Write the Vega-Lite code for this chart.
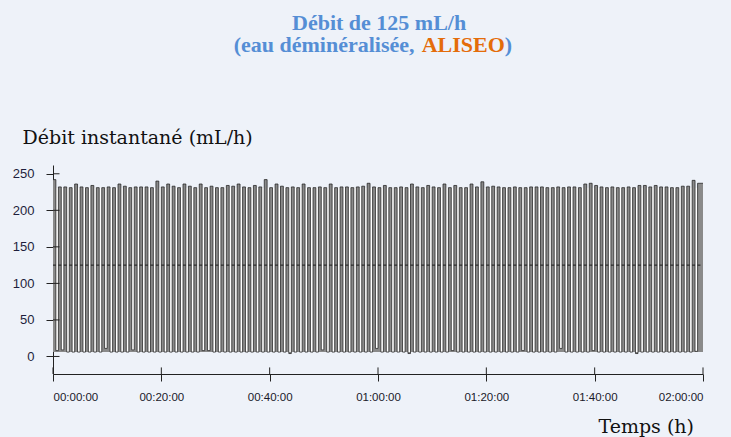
{
"$schema": "https://vega.github.io/schema/vega-lite/v6.json",
"width": 650,
"height": 209,
"autosize": {"type": "none"},
"padding": {"left": 53, "top": 165, "right": 28, "bottom": 63},
"background": "#eef2f9",
"config": {"view": {"stroke": null}, "font": "Liberation Sans"},
"datasets": {
"flow": [
{"t":0,"v":242},{"t":0.53,"v":8},{"t":1,"v":232},{"t":1.53,"v":9},{"t":2,"v":232},{"t":2.53,"v":6},{"t":3,"v":231},{"t":3.53,"v":6},{"t":4,"v":236},{"t":4.53,"v":6},
{"t":5,"v":232},{"t":5.53,"v":6},{"t":6,"v":231},{"t":6.53,"v":6},{"t":7,"v":234},{"t":7.53,"v":6},{"t":8,"v":231},{"t":8.53,"v":6},{"t":9,"v":231},{"t":9.53,"v":11},
{"t":10,"v":232},{"t":10.53,"v":6},{"t":11,"v":231},{"t":11.53,"v":6},{"t":12,"v":236},{"t":12.53,"v":6},{"t":13,"v":233},{"t":13.53,"v":6},{"t":14,"v":231},{"t":14.53,"v":9},
{"t":15,"v":232},{"t":15.53,"v":6},{"t":16,"v":232},{"t":16.53,"v":6},{"t":17,"v":232},{"t":17.53,"v":6},{"t":18,"v":231},{"t":18.53,"v":6},{"t":19,"v":240},{"t":19.53,"v":6},
{"t":20,"v":232},{"t":20.53,"v":6},{"t":21,"v":236},{"t":21.53,"v":6},{"t":22,"v":233},{"t":22.53,"v":6},{"t":23,"v":231},{"t":23.53,"v":6},{"t":24,"v":236},{"t":24.53,"v":6},
{"t":25,"v":233},{"t":25.53,"v":6},{"t":26,"v":231},{"t":26.53,"v":6},{"t":27,"v":236},{"t":27.53,"v":8},{"t":28,"v":231},{"t":28.53,"v":8},{"t":29,"v":233},{"t":29.53,"v":6},
{"t":30,"v":231},{"t":30.53,"v":6},{"t":31,"v":231},{"t":31.53,"v":6},{"t":32,"v":234},{"t":32.53,"v":6},{"t":33,"v":233},{"t":33.53,"v":6},{"t":34,"v":236},{"t":34.53,"v":6},
{"t":35,"v":232},{"t":35.53,"v":6},{"t":36,"v":231},{"t":36.53,"v":6},{"t":37,"v":234},{"t":37.53,"v":6},{"t":38,"v":232},{"t":38.53,"v":6},{"t":39,"v":242},{"t":39.53,"v":6},
{"t":40,"v":231},{"t":40.53,"v":6},{"t":41,"v":236},{"t":41.53,"v":6},{"t":42,"v":233},{"t":42.53,"v":6},{"t":43,"v":231},{"t":43.53,"v":4},{"t":44,"v":232},{"t":44.53,"v":6},
{"t":45,"v":231},{"t":45.53,"v":6},{"t":46,"v":236},{"t":46.53,"v":6},{"t":47,"v":231},{"t":47.53,"v":6},{"t":48,"v":231},{"t":48.53,"v":6},{"t":49,"v":232},{"t":49.53,"v":9},
{"t":50,"v":231},{"t":50.53,"v":6},{"t":51,"v":236},{"t":51.53,"v":6},{"t":52,"v":231},{"t":52.53,"v":6},{"t":53,"v":232},{"t":53.53,"v":6},{"t":54,"v":232},{"t":54.53,"v":6},
{"t":55,"v":231},{"t":55.53,"v":6},{"t":56,"v":232},{"t":56.53,"v":6},{"t":57,"v":233},{"t":57.53,"v":6},{"t":58,"v":237},{"t":58.53,"v":6},{"t":59,"v":232},{"t":59.53,"v":11},
{"t":60,"v":231},{"t":60.53,"v":6},{"t":61,"v":234},{"t":61.53,"v":6},{"t":62,"v":231},{"t":62.53,"v":6},{"t":63,"v":231},{"t":63.53,"v":6},{"t":64,"v":232},{"t":64.53,"v":6},
{"t":65,"v":231},{"t":65.53,"v":4},{"t":66,"v":236},{"t":66.53,"v":6},{"t":67,"v":232},{"t":67.53,"v":6},{"t":68,"v":231},{"t":68.53,"v":6},{"t":69,"v":234},{"t":69.53,"v":6},
{"t":70,"v":232},{"t":70.53,"v":6},{"t":71,"v":231},{"t":71.53,"v":6},{"t":72,"v":236},{"t":72.53,"v":6},{"t":73,"v":231},{"t":73.53,"v":8},{"t":74,"v":234},{"t":74.53,"v":6},
{"t":75,"v":231},{"t":75.53,"v":6},{"t":76,"v":231},{"t":76.53,"v":6},{"t":77,"v":236},{"t":77.53,"v":6},{"t":78,"v":232},{"t":78.53,"v":6},{"t":79,"v":239},{"t":79.53,"v":6},
{"t":80,"v":232},{"t":80.53,"v":6},{"t":81,"v":233},{"t":81.53,"v":6},{"t":82,"v":232},{"t":82.53,"v":6},{"t":83,"v":231},{"t":83.53,"v":6},{"t":84,"v":231},{"t":84.53,"v":6},
{"t":85,"v":232},{"t":85.53,"v":6},{"t":86,"v":231},{"t":86.53,"v":8},{"t":87,"v":231},{"t":87.53,"v":6},{"t":88,"v":232},{"t":88.53,"v":6},{"t":89,"v":232},{"t":89.53,"v":6},
{"t":90,"v":232},{"t":90.53,"v":6},{"t":91,"v":231},{"t":91.53,"v":6},{"t":92,"v":231},{"t":92.53,"v":6},{"t":93,"v":232},{"t":93.53,"v":11},{"t":94,"v":231},{"t":94.53,"v":6},
{"t":95,"v":232},{"t":95.53,"v":6},{"t":96,"v":232},{"t":96.53,"v":6},{"t":97,"v":231},{"t":97.53,"v":6},{"t":98,"v":236},{"t":98.53,"v":6},{"t":99,"v":237},{"t":99.53,"v":8},
{"t":100,"v":234},{"t":100.53,"v":6},{"t":101,"v":232},{"t":101.53,"v":6},{"t":102,"v":231},{"t":102.53,"v":6},{"t":103,"v":232},{"t":103.53,"v":6},{"t":104,"v":231},{"t":104.53,"v":6},
{"t":105,"v":231},{"t":105.53,"v":6},{"t":106,"v":232},{"t":106.53,"v":6},{"t":107,"v":231},{"t":107.53,"v":4},{"t":108,"v":234},{"t":108.53,"v":6},{"t":109,"v":234},{"t":109.53,"v":6},
{"t":110,"v":232},{"t":110.53,"v":6},{"t":111,"v":234},{"t":111.53,"v":6},{"t":112,"v":232},{"t":112.53,"v":6},{"t":113,"v":232},{"t":113.53,"v":6},{"t":114,"v":231},{"t":114.53,"v":6},
{"t":115,"v":231},{"t":115.53,"v":6},{"t":116,"v":233},{"t":116.53,"v":6},{"t":117,"v":233},{"t":117.53,"v":6},{"t":118,"v":241},{"t":118.53,"v":7},{"t":119,"v":237},{"t":120,"v":237}
],
"yticks": [{"v":0},{"v":50},{"v":100},{"v":150},{"v":200},{"v":250}],
"xticks": [{"t":0},{"t":20},{"t":40},{"t":60},{"t":80},{"t":100},{"t":120}]
},
"layer": [
{
"data": {"values": [{}]},
"mark": {"type": "rect", "color": "#ffffff", "opacity": 1},
"encoding": {"x": {"datum": 0, "type": "quantitative", "scale": {"domain": [0, 120], "nice": false, "zero": false}}, "x2": {"datum": 120}, "y": {"datum": 6, "type": "quantitative", "scale": {"domain": [-24, 262], "nice": false, "zero": false}}, "y2": {"datum": 231}}
},
{
"data": {"name": "flow"},
"mark": {"type": "area", "interpolate": "step-after", "color": "#8a8a8a", "opacity": 1},
"encoding": {
"x": {"field": "t", "type": "quantitative",
 "axis": {"values": [0,20,40,60,80,100,120], "labelExpr": "utcFormat(datum.value*60000, '%H:%M:%S')",
  "labelFont": "Liberation Sans Narrow, Arial Narrow, Liberation Sans, Arial, sans-serif", "labelFontSize": 11.5, "labelColor": "#1a1a2a", "labelPadding": 10,
  "tickSize": 7, "tickColor": "#222222", "domainColor": "#222222", "grid": false,
  "title": "Temps (h)", "titleFont": "DejaVu Serif", "titleFontSize": 19, "titleFontWeight": "normal", "titleColor": "#111111",
  "titleAlign": "left", "titleBaseline": "alphabetic", "titleAngle": 0, "titleX": 545, "titleY": 58}},
"y": {"field": "v", "type": "quantitative",
 "axis": {"values": [0,50,100,150,200,250],
  "labelFont": "Liberation Sans", "labelFontSize": 13, "labelColor": "#1e1e3c", "labelPadding": 12,
  "tickSize": 7, "tickColor": "#222222", "domainColor": "#222222", "grid": false,
  "title": "Débit instantané (mL/h)", "titleFont": "DejaVu Serif", "titleFontSize": 19, "titleFontWeight": "normal", "titleColor": "#111111",
  "titleAlign": "left", "titleBaseline": "alphabetic", "titleAngle": 0, "titleX": -31, "titleY": -22}},
"y2": {"datum": 6}
}
},
{
"data": {"values": [{}]},
"mark": {"type": "rule", "color": "#1a1a1a", "strokeWidth": 1, "strokeDash": [2.87, 2.5467]},
"encoding": {"x": {"datum": 0}, "x2": {"datum": 120}, "y": {"datum": 125}}
},
{
"data": {"name": "flow"},
"mark": {"type": "line", "interpolate": "step-after", "color": "#202020", "strokeWidth": 0.75},
"encoding": {"x": {"field": "t", "type": "quantitative"}, "y": {"field": "v", "type": "quantitative"}}
},
{
"data": {"name": "yticks"},
"mark": {"type": "rule", "color": "#222222", "strokeWidth": 1},
"encoding": {"y": {"field": "v", "type": "quantitative"}, "x": {"datum": 0}, "x2": {"datum": 1.2}}
},
{
"data": {"name": "xticks"},
"mark": {"type": "rule", "color": "#222222", "strokeWidth": 1},
"encoding": {"x": {"field": "t", "type": "quantitative"}, "y": {"datum": -24}, "y2": {"datum": -15}}
},
{
"data": {"values": [{}]},
"mark": {"type": "text", "text": "Débit de 125 mL/h", "font": "Liberation Serif", "fontWeight": "bold", "fontSize": 22, "color": "#558ed5", "align": "center", "baseline": "alphabetic"},
"encoding": {"x": {"datum": 60.2}, "y": {"datum": 446.7}}
},
{
"data": {"values": [{}]},
"mark": {"type": "text", "text": "(eau déminéralisée,", "font": "Liberation Serif", "fontWeight": "bold", "fontSize": 22, "color": "#558ed5", "align": "right", "baseline": "alphabetic"},
"encoding": {"x": {"datum": 66.75}, "y": {"datum": 417}}
},
{
"data": {"values": [{}]},
"mark": {"type": "text", "text": "ALISEO", "font": "Liberation Serif", "fontWeight": "bold", "fontSize": 22, "color": "#e46c0a", "align": "left", "baseline": "alphabetic"},
"encoding": {"x": {"datum": 68.07}, "y": {"datum": 417}}
},
{
"data": {"values": [{}]},
"mark": {"type": "text", "text": ")", "font": "Liberation Serif", "fontWeight": "bold", "fontSize": 22, "color": "#558ed5", "align": "left", "baseline": "alphabetic"},
"encoding": {"x": {"datum": 83.4}, "y": {"datum": 417}}
}
]
}
